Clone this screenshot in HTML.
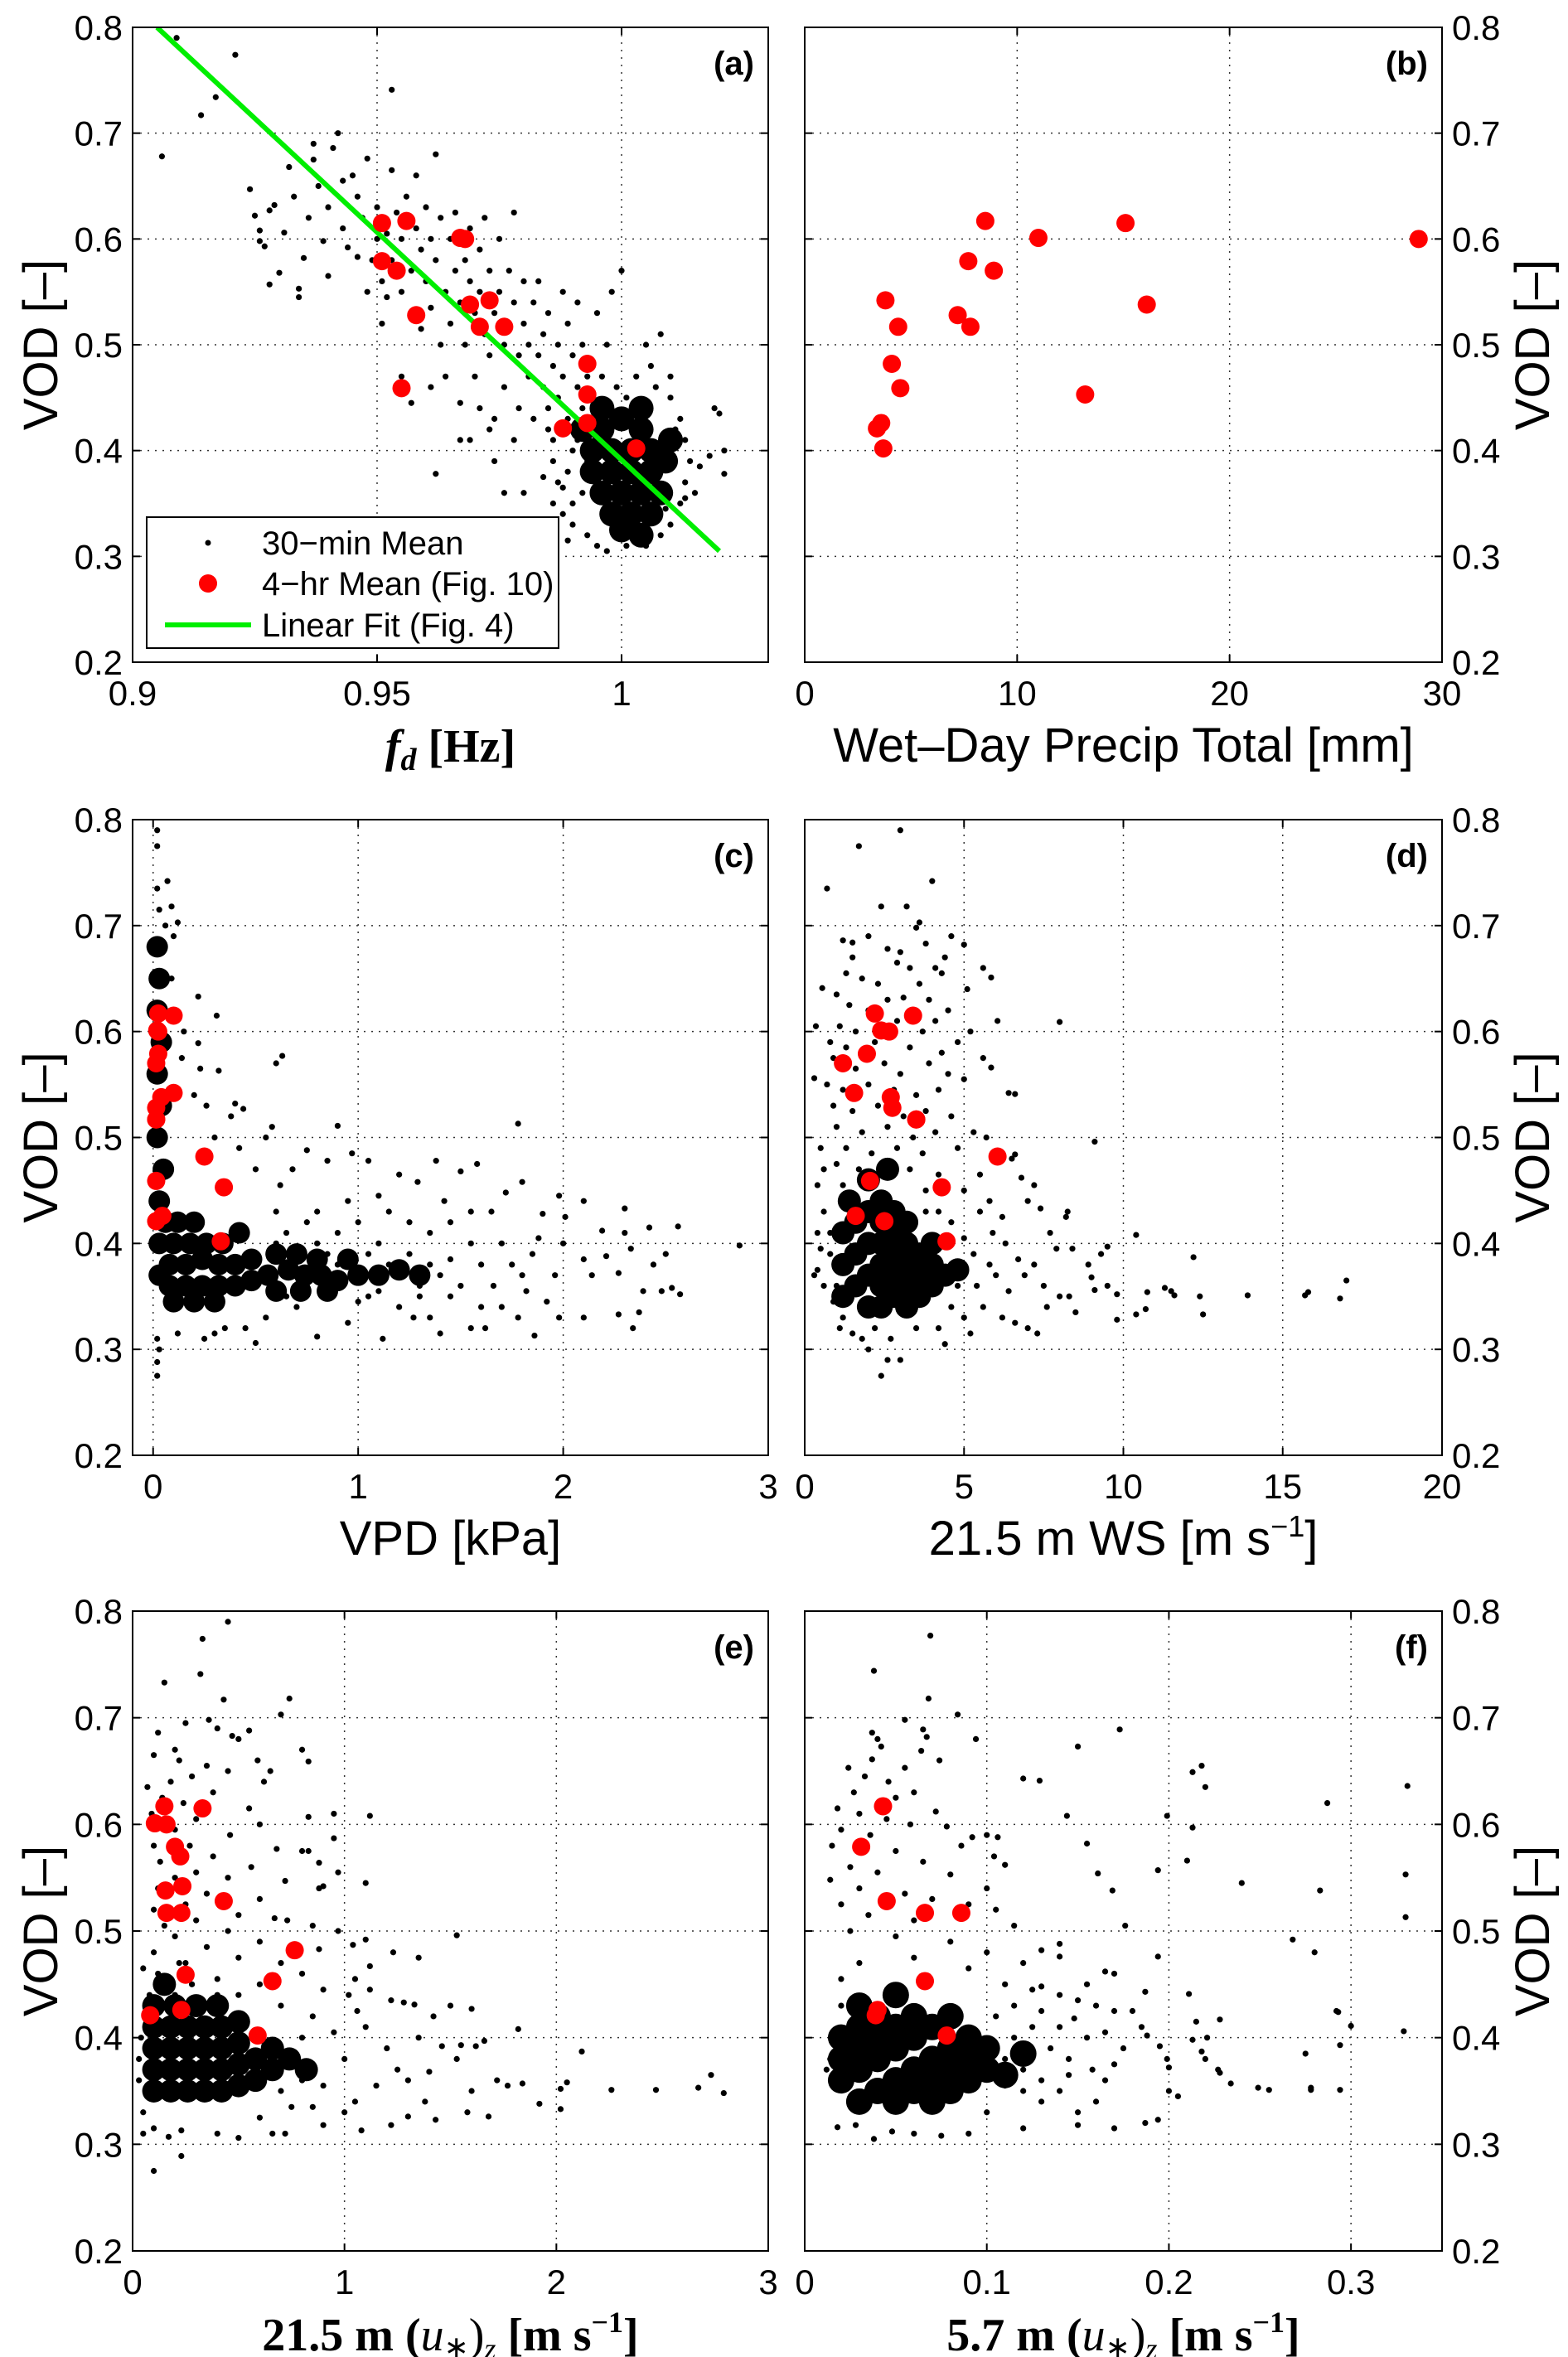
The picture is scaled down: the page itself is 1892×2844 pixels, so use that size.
<!DOCTYPE html>
<html><head><meta charset="utf-8">
<style>
html,body{margin:0;padding:0;background:#fff;}
svg{display:block;}
text{font-family:"Liberation Sans",sans-serif;fill:#000;}
.tick{font-size:42px;}
.alab{font-size:58px;}
.plab{font-size:40px;font-weight:bold;}
.math{font-family:"Liberation Serif",serif;font-weight:bold;font-size:56px;}
</style></head>
<body>
<svg id="fig" width="1892" height="2844" viewBox="0 0 1892 2844" xmlns="http://www.w3.org/2000/svg"></svg>
<script>
const vodTicks=[0.2,0.3,0.4,0.5,0.6,0.7,0.8];
const vodTickLabels=["0.2","0.3","0.4","0.5","0.6","0.7","0.8"];
// 4-hr mean VOD values (shared)
const meanVOD=[0.617,0.615,0.601,0.600,0.579,0.570,0.542,0.538,0.528,0.517,0.517,0.482,0.459,0.453,0.426,0.421,0.402];
const meanFd=[0.956,0.951,0.967,0.968,0.951,0.954,0.973,0.969,0.958,0.971,0.976,0.993,0.955,0.993,0.993,0.988,1.003];
const meanPrecip=[8.5,15.1,11.0,28.9,7.7,8.9,3.8,16.1,7.2,4.4,7.8,4.1,4.5,13.2,3.6,3.4,3.7];
const meanVPD=[0.025,0.10,0.02,0.025,0.025,0.015,0.10,0.04,0.015,0.015,0.015,0.25,0.015,0.345,0.045,0.015,0.33];
const meanWS=[2.2,3.4,2.4,2.65,1.95,1.2,1.55,2.7,2.75,3.5,3.5,6.05,2.05,4.3,1.6,2.5,4.45];
const meanUs21=[0.15,0.33,0.105,0.16,0.2,0.225,0.235,0.155,0.43,0.16,0.23,0.765,0.25,0.66,0.23,0.083,0.59];
const fVOD=[0.617,0.579,0.528,0.517,0.517,0.453,0.426,0.421,0.402];
const meanUs57=[0.043,0.031,0.045,0.066,0.086,0.066,0.040,0.039,0.078];
const fitX=[0.905,1.02];
const fitY=[0.8,0.305];
const xTicksA=[0.9,0.95,1],xLabA=["0.9","0.95","1"];
const xTicksB=[0,10,20,30],xLabB=["0","10","20","30"];
const xTicksC=[0,1,2,3],xLabC=["0","1","2","3"];
const xTicksD=[0,5,10,15,20],xLabD=["0","5","10","15","20"];
const xTicksE=[0,1,2,3],xLabE=["0","1","2","3"];
const xTicksF=[0,0.1,0.2,0.3],xLabF=["0","0.1","0.2","0.3"];

const ptsA=[[0.906,0.678],[0.909,0.79],[0.914,0.717],[0.917,0.734],[0.921,0.774],[0.953,0.741],[0.924,0.647],[0.925,0.622],[0.926,0.608],[0.926,0.598],[0.927,0.593],[0.928,0.557],[0.928,0.627],[0.929,0.632],[0.930,0.568],[0.931,0.606],[0.932,0.668],[0.933,0.64],[0.934,0.553],[0.934,0.545],[0.935,0.582],[0.936,0.62],[0.937,0.69],[0.937,0.675],[0.938,0.65],[0.939,0.598],[0.940,0.63],[0.940,0.565],[0.941,0.686],[0.942,0.7],[0.943,0.61],[0.943,0.655],[0.944,0.592],[0.945,0.66],[0.946,0.64],[0.946,0.583],[0.947,0.62],[0.948,0.676],[0.948,0.55],[0.949,0.58],[0.950,0.6],[0.950,0.63],[0.951,0.56],[0.951,0.52],[0.952,0.605],[0.952,0.545],[0.953,0.58],[0.953,0.665],[0.954,0.625],[0.955,0.55],[0.955,0.6],[0.956,0.64],[0.957,0.57],[0.957,0.53],[0.958,0.61],[0.958,0.66],[0.959,0.59],[0.959,0.515],[0.960,0.63],[0.960,0.56],[0.961,0.6],[0.961,0.535],[0.962,0.68],[0.962,0.58],[0.963,0.62],[0.963,0.5],[0.964,0.55],[0.964,0.47],[0.965,0.6],[0.965,0.52],[0.966,0.57],[0.966,0.625],[0.967,0.54],[0.967,0.445],[0.968,0.58],[0.968,0.5],[0.969,0.56],[0.969,0.61],[0.970,0.53],[0.970,0.47],[0.971,0.59],[0.971,0.55],[0.972,0.51],[0.972,0.62],[0.973,0.57],[0.973,0.49],[0.974,0.53],[0.974,0.43],[0.975,0.55],[0.975,0.6],[0.976,0.5],[0.976,0.46],[0.977,0.57],[0.977,0.52],[0.978,0.54],[0.978,0.625],[0.979,0.49],[0.979,0.44],[0.980,0.52],[0.980,0.56],[0.981,0.5],[0.981,0.47],[0.982,0.54],[0.982,0.43],[0.983,0.49],[0.983,0.56],[0.984,0.46],[0.984,0.51],[0.985,0.53],[0.985,0.44],[0.986,0.48],[0.986,0.41],[0.987,0.5],[0.987,0.45],[0.988,0.55],[0.988,0.47],[0.989,0.43],[0.989,0.52],[0.990,0.49],[0.990,0.4],[0.991,0.46],[0.991,0.54],[0.992,0.44],[0.992,0.5],[0.993,0.47],[0.993,0.39],[0.955,0.47],[0.957,0.445],[0.961,0.46],[0.962,0.378],[0.967,0.41],[0.969,0.41],[0.971,0.44],[0.973,0.42],[0.974,0.39],[0.976,0.36],[0.978,0.41],[0.98,0.36],[0.984,0.375],[0.986,0.35],[0.988,0.34],[0.989,0.315],[0.988,0.365],[1.019,0.44],[1.02,0.435],[1.021,0.4],[1.021,0.378],[1.018,0.395],[1.016,0.385],[1.013,0.355],[1.01,0.47],[1.008,0.51],[1.005,0.5],[1.0,0.57],[0.998,0.55],[0.995,0.53],[0.997,0.5],[0.985,0.42],[0.986,0.39],[0.987,0.37],[0.99,0.35],[0.99,0.33],[0.992,0.36],[0.993,0.32],[0.995,0.31],[0.997,0.305],[1.001,0.31],[1.005,0.31],[1.008,0.32],[1.01,0.33],[1.012,0.35],[1.013,0.37],[1.014,0.39],[1.013,0.41],[1.012,0.43],[1.01,0.45],[1.007,0.46],[1.003,0.47],[0.999,0.46],[0.996,0.47],[0.994,0.45],[1.015,0.36],[1.011,0.42],[0.989,0.38],[0.991,0.41],[1.006,0.48],[1.001,0.45],[1.009,0.345]];
const denseA=[[0.996,0.42],[1.0,0.43],[1.004,0.42],[0.994,0.40],[0.998,0.40],[1.002,0.40],[1.006,0.40],[0.994,0.38],[0.998,0.38],[1.002,0.38],[1.006,0.38],[1.009,0.39],[0.996,0.36],[1.0,0.36],[1.004,0.36],[1.008,0.36],[0.998,0.34],[1.002,0.34],[1.006,0.34],[1.0,0.325],[1.004,0.32],[0.992,0.42],[1.010,0.41],[0.996,0.44],[1.004,0.44]];

const ptsC=[[0.02,0.79],[0.02,0.775],[0.02,0.735],[0.07,0.742],[0.03,0.715],[0.09,0.718],[0.12,0.703],[0.06,0.7],[0.1,0.69],[0.05,0.655],[0.09,0.65],[0.22,0.633],[0.31,0.615],[0.15,0.6],[0.22,0.589],[0.6,0.57],[0.63,0.577],[0.23,0.565],[0.32,0.563],[0.14,0.575],[0.4,0.532],[0.44,0.527],[0.38,0.52],[0.58,0.51],[0.9,0.511],[1.78,0.513],[0.3,0.5],[0.55,0.5],[0.26,0.53],[0.2,0.54],[0.75,0.488],[0.97,0.485],[1.05,0.478],[1.38,0.478],[1.58,0.475],[1.2,0.465],[1.5,0.468],[0.68,0.47],[0.85,0.478],[0.42,0.49],[0.5,0.47],[0.62,0.455],[1.29,0.458],[1.8,0.458],[1.72,0.448],[1.98,0.445],[2.1,0.44],[2.3,0.433],[1.65,0.43],[1.9,0.428],[1.42,0.44],[1.1,0.445],[0.95,0.44],[0.8,0.43],[2.01,0.425],[2.19,0.412],[2.3,0.41],[2.42,0.415],[2.56,0.416],[2.86,0.398],[2.44,0.38],[2.33,0.395],[2.27,0.372],[2.5,0.39],[2.39,0.355],[2.48,0.355],[2.53,0.358],[2.57,0.352],[2.34,0.32],[2.27,0.333],[2.37,0.335],[2.14,0.37],[2.21,0.388],[2.1,0.385],[2.0,0.4],[1.96,0.37],[1.88,0.405],[1.85,0.39],[1.8,0.37],[1.75,0.38],[1.7,0.4],[1.92,0.345],[1.98,0.33],[2.1,0.33],[1.86,0.313],[1.82,0.355],[1.66,0.36],[1.6,0.38],[1.55,0.4],[1.5,0.36],[1.45,0.385],[1.4,0.37],[1.35,0.41],[1.3,0.36],[1.25,0.39],[1.2,0.34],[1.15,0.38],[1.1,0.4],[1.05,0.35],[1.0,0.42],[0.95,0.39],[0.9,0.41],[0.85,0.35],[0.8,0.4],[0.75,0.42],[0.7,0.34],[0.65,0.41],[0.6,0.43],[0.7,0.39],[0.55,0.33],[0.45,0.32],[0.35,0.32],[0.3,0.315],[0.25,0.31],[0.12,0.315],[0.5,0.306],[0.8,0.312],[1.12,0.31],[1.4,0.315],[1.55,0.32],[1.62,0.32],[1.35,0.33],[0.95,0.325],[1.27,0.33],[1.7,0.34],[1.78,0.33],[1.45,0.35],[1.6,0.34],[0.03,0.3],[0.02,0.288],[0.02,0.275],[0.02,0.31],[1.25,0.42],[1.15,0.43],[1.45,0.42],[1.55,0.43],[0.6,0.4],[0.65,0.35],[0.9,0.38],[1.05,0.39],[1.2,0.37],[1.35,0.38],[1.3,0.35],[0.85,0.39],[0.75,0.36],[1.0,0.345],[1.1,0.355]];
const denseC=[[0.02,0.68],[0.03,0.65],[0.02,0.62],[0.04,0.59],[0.02,0.56],[0.04,0.53],[0.02,0.5],[0.05,0.47],[0.03,0.44],[0.06,0.42],[0.03,0.40],[0.03,0.37],[0.08,0.36],[0.16,0.36],[0.24,0.36],[0.32,0.36],[0.40,0.36],[0.48,0.365],[0.56,0.37],[0.08,0.38],[0.16,0.38],[0.24,0.385],[0.32,0.38],[0.40,0.38],[0.48,0.385],[0.1,0.40],[0.18,0.40],[0.26,0.40],[0.34,0.40],[0.12,0.42],[0.2,0.42],[0.1,0.345],[0.2,0.345],[0.3,0.345],[0.66,0.375],[0.74,0.37],[0.82,0.37],[0.9,0.365],[1.0,0.37],[1.1,0.37],[0.6,0.39],[0.7,0.39],[0.8,0.385],[0.6,0.355],[0.72,0.355],[0.85,0.355],[0.95,0.385],[1.2,0.375],[1.3,0.37],[0.42,0.41]];

const ptsD=[[0.7,0.735],[1.7,0.775],[3.0,0.79],[4.0,0.742],[2.4,0.718],[3.2,0.718],[3.5,0.698],[3.6,0.703],[1.2,0.686],[1.5,0.684],[2.0,0.69],[4.6,0.69],[5.0,0.682],[3.8,0.683],[2.6,0.678],[3.0,0.675],[4.4,0.67],[1.5,0.67],[2.9,0.665],[3.3,0.66],[4.1,0.66],[5.6,0.66],[5.85,0.651],[4.3,0.655],[1.3,0.655],[1.8,0.65],[2.3,0.645],[3.6,0.645],[5.1,0.64],[0.55,0.641],[1.0,0.635],[2.6,0.63],[3.1,0.632],[3.9,0.63],[4.5,0.62],[1.4,0.625],[2.0,0.62],[6.05,0.61],[8.0,0.609],[4.1,0.61],[0.35,0.605],[1.1,0.605],[1.6,0.6],[2.9,0.61],[3.7,0.6],[5.2,0.6],[4.8,0.59],[0.8,0.59],[1.3,0.585],[2.2,0.59],[3.3,0.585],[4.3,0.58],[5.6,0.575],[5.85,0.566],[0.9,0.575],[1.6,0.565],[2.5,0.57],[3.0,0.56],[3.9,0.57],[4.5,0.56],[0.3,0.556],[5.0,0.555],[6.4,0.542],[6.6,0.541],[0.7,0.55],[1.2,0.545],[2.0,0.55],[2.8,0.545],[3.5,0.54],[4.2,0.545],[0.9,0.53],[1.5,0.525],[2.3,0.53],[3.1,0.52],[3.8,0.525],[4.6,0.52],[1.0,0.51],[1.8,0.505],[2.6,0.51],[3.4,0.5],[4.1,0.505],[5.7,0.5],[9.1,0.496],[5.3,0.505],[0.5,0.49],[1.3,0.49],[2.1,0.485],[2.9,0.49],[3.7,0.485],[4.8,0.49],[6.5,0.48],[6.6,0.484],[0.6,0.47],[1.0,0.475],[1.7,0.47],[3.3,0.47],[4.2,0.465],[5.5,0.465],[6.8,0.462],[7.2,0.455],[0.4,0.455],[1.2,0.455],[3.8,0.45],[5.0,0.45],[5.8,0.44],[7.4,0.433],[8.25,0.43],[8.2,0.425],[7.0,0.44],[6.2,0.425],[0.6,0.43],[0.8,0.41],[0.5,0.395],[0.4,0.375],[0.6,0.36],[0.9,0.345],[1.2,0.33],[1.1,0.32],[1.5,0.315],[1.8,0.31],[2.2,0.32],[2.7,0.31],[3.0,0.29],[2.4,0.275],[3.5,0.32],[4.2,0.32],[4.4,0.305],[5.2,0.315],[5.0,0.33],[5.6,0.34],[6.2,0.33],[6.6,0.325],[7.0,0.32],[7.3,0.315],[7.6,0.34],[8.5,0.335],[8.0,0.35],[8.3,0.35],[7.5,0.36],[6.9,0.37],[6.4,0.355],[6.0,0.37],[5.8,0.38],[5.3,0.39],[5.0,0.405],[4.8,0.36],[4.6,0.34],[5.9,0.41],[6.3,0.4],[6.7,0.385],[7.2,0.38],[7.7,0.41],[7.9,0.395],[8.4,0.395],[8.9,0.38],[9.0,0.368],[9.3,0.39],[9.5,0.397],[9.1,0.356],[9.5,0.36],[9.8,0.352],[9.8,0.328],[10.4,0.408],[10.4,0.333],[10.75,0.354],[10.7,0.338],[11.3,0.358],[11.5,0.355],[11.6,0.351],[12.2,0.387],[12.4,0.35],[12.5,0.333],[13.9,0.351],[15.7,0.351],[15.8,0.354],[16.8,0.348],[17.0,0.365],[0.8,0.39],[1.0,0.36],[4.6,0.42],[4.2,0.43],[3.8,0.43],[5.5,0.43],[4.9,0.38],[5.4,0.36],[2.0,0.3],[2.6,0.29],[0.3,0.37],[0.4,0.41]];
const denseD=[[1.2,0.38],[1.6,0.36],[1.6,0.39],[1.6,0.42],[2.0,0.34],[2.0,0.37],[2.0,0.40],[2.0,0.43],[2.4,0.34],[2.4,0.36],[2.4,0.38],[2.4,0.40],[2.4,0.42],[2.4,0.44],[2.8,0.35],[2.8,0.37],[2.8,0.39],[2.8,0.41],[2.8,0.43],[3.2,0.34],[3.2,0.36],[3.2,0.38],[3.2,0.40],[3.2,0.42],[3.6,0.35],[3.6,0.37],[3.6,0.39],[4.0,0.36],[4.0,0.38],[4.4,0.37],[2.0,0.46],[2.6,0.47],[1.4,0.44],[1.2,0.35],[1.2,0.41],[4.0,0.40],[4.8,0.375]];

const ptsE=[[0.45,0.79],[0.33,0.774],[0.32,0.741],[0.15,0.733],[0.74,0.718],[0.43,0.717],[0.7,0.703],[0.36,0.698],[0.25,0.695],[0.12,0.686],[0.55,0.688],[0.5,0.68],[0.47,0.683],[0.4,0.69],[0.8,0.67],[0.83,0.659],[0.59,0.66],[0.65,0.65],[0.2,0.67],[0.22,0.66],[0.1,0.665],[0.35,0.655],[0.45,0.65],[0.28,0.645],[0.62,0.64],[0.18,0.64],[0.07,0.635],[0.38,0.63],[0.14,0.625],[0.24,0.62],[0.55,0.615],[0.09,0.61],[0.95,0.61],[1.12,0.608],[0.83,0.607],[0.3,0.605],[0.6,0.6],[0.2,0.595],[0.46,0.59],[0.95,0.587],[0.1,0.58],[0.27,0.58],[0.68,0.577],[0.8,0.575],[0.83,0.575],[0.38,0.57],[0.13,0.565],[0.88,0.564],[0.56,0.56],[0.3,0.555],[0.2,0.55],[0.97,0.555],[0.45,0.55],[0.72,0.547],[1.1,0.545],[0.9,0.542],[0.88,0.54],[0.12,0.54],[0.35,0.535],[0.6,0.53],[0.25,0.525],[0.1,0.52],[0.5,0.515],[0.67,0.512],[0.73,0.51],[0.3,0.51],[0.15,0.505],[0.85,0.505],[0.97,0.5],[0.45,0.5],[0.2,0.495],[1.1,0.492],[1.53,0.496],[1.04,0.487],[0.6,0.49],[0.35,0.485],[0.1,0.48],[0.88,0.483],[1.23,0.48],[1.35,0.475],[0.5,0.475],[0.25,0.47],[0.7,0.47],[1.12,0.467],[0.05,0.465],[0.8,0.46],[0.4,0.455],[1.05,0.455],[0.6,0.45],[0.9,0.445],[1.02,0.44],[1.12,0.445],[0.2,0.44],[1.22,0.435],[1.28,0.433],[1.33,0.431],[1.5,0.43],[1.42,0.42],[1.6,0.427],[0.7,0.43],[1.06,0.425],[0.85,0.42],[0.95,0.405],[1.82,0.408],[1.66,0.397],[1.46,0.392],[1.55,0.393],[1.53,0.38],[1.62,0.392],[2.12,0.387],[1.35,0.4],[1.2,0.39],[1.1,0.41],[0.8,0.4],[1.0,0.38],[1.25,0.37],[1.4,0.368],[1.15,0.355],[1.3,0.36],[1.05,0.34],[0.9,0.355],[0.85,0.335],[1.0,0.33],[1.08,0.313],[0.9,0.318],[1.22,0.318],[1.3,0.326],[1.38,0.34],[1.43,0.323],[1.58,0.33],[1.6,0.35],[1.72,0.36],[1.77,0.355],[1.68,0.326],[1.84,0.357],[1.92,0.338],[2.02,0.352],[2.05,0.358],[2.02,0.333],[2.26,0.351],[2.47,0.351],[2.67,0.353],[2.73,0.365],[2.79,0.348],[0.05,0.31],[0.1,0.315],[0.17,0.307],[0.23,0.313],[0.23,0.289],[0.1,0.275],[0.4,0.31],[0.5,0.306],[0.66,0.31],[0.72,0.31],[0.6,0.325],[0.75,0.335],[0.8,0.36],[0.7,0.35],[0.05,0.33],[0.03,0.36],[0.03,0.38],[0.04,0.4],[0.06,0.42],[0.08,0.44],[0.12,0.46],[0.22,0.47],[0.28,0.45],[0.4,0.44],[0.5,0.44]];
const denseE=[[0.1,0.35],[0.1,0.37],[0.1,0.39],[0.1,0.41],[0.18,0.35],[0.18,0.37],[0.18,0.39],[0.18,0.41],[0.26,0.35],[0.26,0.37],[0.26,0.39],[0.26,0.41],[0.34,0.35],[0.34,0.37],[0.34,0.39],[0.34,0.41],[0.42,0.35],[0.42,0.37],[0.42,0.39],[0.42,0.41],[0.50,0.355],[0.50,0.375],[0.50,0.395],[0.58,0.36],[0.58,0.38],[0.1,0.43],[0.2,0.43],[0.3,0.43],[0.15,0.45],[0.66,0.37],[0.66,0.39],[0.74,0.38],[0.5,0.415],[0.4,0.43],[0.82,0.37]];

const ptsF=[[0.069,0.777],[0.038,0.744],[0.068,0.718],[0.084,0.703],[0.055,0.698],[0.065,0.689],[0.173,0.689],[0.037,0.686],[0.04,0.68],[0.067,0.682],[0.094,0.68],[0.15,0.673],[0.042,0.673],[0.064,0.669],[0.037,0.661],[0.074,0.66],[0.218,0.655],[0.213,0.649],[0.024,0.653],[0.055,0.653],[0.12,0.643],[0.129,0.641],[0.22,0.635],[0.331,0.636],[0.046,0.64],[0.033,0.645],[0.027,0.63],[0.05,0.625],[0.06,0.63],[0.287,0.62],[0.018,0.615],[0.03,0.61],[0.045,0.605],[0.144,0.608],[0.199,0.608],[0.213,0.597],[0.072,0.612],[0.058,0.6],[0.02,0.595],[0.036,0.59],[0.078,0.598],[0.092,0.588],[0.1,0.59],[0.106,0.588],[0.155,0.582],[0.015,0.58],[0.05,0.575],[0.065,0.565],[0.086,0.58],[0.11,0.562],[0.104,0.57],[0.194,0.557],[0.21,0.566],[0.161,0.554],[0.025,0.56],[0.04,0.555],[0.08,0.553],[0.014,0.548],[0.03,0.54],[0.055,0.535],[0.24,0.545],[0.283,0.538],[0.169,0.538],[0.33,0.553],[0.1,0.54],[0.07,0.53],[0.02,0.525],[0.09,0.525],[0.035,0.515],[0.105,0.52],[0.33,0.513],[0.06,0.51],[0.115,0.505],[0.176,0.505],[0.025,0.5],[0.05,0.495],[0.08,0.49],[0.268,0.492],[0.28,0.48],[0.14,0.488],[0.13,0.482],[0.1,0.48],[0.12,0.47],[0.194,0.476],[0.14,0.476],[0.165,0.462],[0.17,0.46],[0.155,0.45],[0.03,0.47],[0.06,0.475],[0.09,0.465],[0.02,0.455],[0.11,0.45],[0.125,0.445],[0.13,0.448],[0.14,0.44],[0.15,0.435],[0.16,0.43],[0.17,0.425],[0.18,0.425],[0.187,0.443],[0.211,0.441],[0.215,0.415],[0.228,0.417],[0.213,0.398],[0.221,0.4],[0.293,0.424],[0.292,0.425],[0.3,0.411],[0.329,0.406],[0.294,0.393],[0.275,0.385],[0.218,0.387],[0.22,0.38],[0.227,0.37],[0.228,0.367],[0.234,0.357],[0.249,0.353],[0.255,0.351],[0.278,0.353],[0.278,0.351],[0.294,0.351],[0.199,0.38],[0.2,0.372],[0.2,0.35],[0.205,0.345],[0.194,0.323],[0.187,0.32],[0.195,0.392],[0.188,0.402],[0.185,0.41],[0.175,0.39],[0.17,0.375],[0.165,0.36],[0.16,0.34],[0.15,0.33],[0.14,0.35],[0.13,0.36],[0.12,0.37],[0.11,0.38],[0.115,0.4],[0.125,0.41],[0.135,0.39],[0.145,0.38],[0.155,0.4],[0.165,0.405],[0.148,0.418],[0.13,0.425],[0.115,0.43],[0.105,0.42],[0.12,0.35],[0.13,0.34],[0.145,0.365],[0.158,0.37],[0.17,0.315],[0.15,0.318],[0.12,0.315],[0.1,0.33],[0.09,0.31],[0.075,0.308],[0.06,0.31],[0.048,0.312],[0.038,0.305],[0.028,0.318],[0.018,0.316],[0.012,0.37],[0.014,0.38],[0.016,0.395],[0.02,0.43],[0.11,0.355],[0.14,0.41]];
const denseF=[[0.02,0.36],[0.02,0.38],[0.02,0.40],[0.03,0.34],[0.03,0.37],[0.03,0.39],[0.03,0.41],[0.03,0.43],[0.04,0.35],[0.04,0.38],[0.04,0.40],[0.04,0.42],[0.05,0.34],[0.05,0.36],[0.05,0.39],[0.05,0.41],[0.05,0.44],[0.06,0.35],[0.06,0.37],[0.06,0.40],[0.06,0.42],[0.07,0.34],[0.07,0.36],[0.07,0.38],[0.07,0.41],[0.08,0.35],[0.08,0.37],[0.08,0.39],[0.08,0.42],[0.09,0.36],[0.09,0.38],[0.09,0.40],[0.10,0.37],[0.10,0.39],[0.11,0.365],[0.12,0.385]];

const NS="http://www.w3.org/2000/svg";
const svg=document.getElementById('fig');
function mk(tag,attrs,parent){const e=document.createElementNS(NS,tag);for(const k in attrs)e.setAttribute(k,attrs[k]);(parent||svg).appendChild(e);return e;}

function panel(cfg){
  const g=mk('g',{});
  
  
  const L=cfg.l,R=cfg.r,T=cfg.t,B=cfg.b;
  const sx=v=>L+(v-cfg.xmin)/(cfg.xmax-cfg.xmin)*(R-L);
  const sy=v=>B-(v-0.2)/(0.8-0.2)*(B-T);
  cfg.xt.forEach((t,i)=>{
    const x=sx(t);
    if(x>L+2&&x<R-2){const gl=mk('line',{x1:x,y1:T,x2:x,y2:B,stroke:'#333','stroke-width':1.5,'stroke-dasharray':'2,7'},g);
    
    }
    mk('line',{x1:x,y1:B,x2:x,y2:B-9,stroke:'#000','stroke-width':2},g);
    mk('line',{x1:x,y1:T,x2:x,y2:T+9,stroke:'#000','stroke-width':2},g);
    const tl=mk('text',{x:x,y:B+52,'text-anchor':'middle',class:'tick'},g);
    tl.textContent=cfg.xl[i];
    
    
  });
  vodTicks.forEach((t,i)=>{
    const y=sy(t);
    if(y>T+2&&y<B-2){const gl=mk('line',{x1:L,y1:y,x2:R,y2:y,stroke:'#333','stroke-width':1.5,'stroke-dasharray':'2,7'},g);
    
    }
    mk('line',{x1:L,y1:y,x2:L+9,y2:y,stroke:'#000','stroke-width':2},g);
    mk('line',{x1:R,y1:y,x2:R-9,y2:y,stroke:'#000','stroke-width':2},g);
    const tl=mk('text',{x:cfg.right?R+12:L-12,y:y+15,'text-anchor':cfg.right?'start':'end',class:'tick'},g);
    tl.textContent=vodTickLabels[i];
    
    
  });
  const clip=mk('clipPath',{id:'clip'+cfg.id},g);
  mk('rect',{x:L,y:T,width:R-L,height:B-T},clip);
  const pg=mk('g',{'clip-path':'url(#clip'+cfg.id+')'},g);
  (cfg.dense||[]).forEach(p=>{
    const c=mk('circle',{cx:sx(p[0]),cy:sy(p[1]),r:cfg.dr||14,fill:'#000'},pg);
    
    
  });
  (cfg.pts||[]).forEach(p=>{
    const c=mk('circle',{cx:sx(p[0]),cy:sy(p[1]),r:3.6,fill:'#000'},pg);
    
    
  });
  if(cfg.fit){
    const ln=mk('line',{x1:sx(fitX[0]),y1:sy(fitY[0]),x2:sx(fitX[1]),y2:sy(fitY[1]),stroke:'#00ee00','stroke-width':6},pg);
    
    
  }
  cfg.mx.forEach((v,i)=>{
    const c=mk('circle',{cx:sx(v),cy:sy(cfg.my[i]),r:11,fill:'#ff0000'},pg);
    
    
  });
  const box=mk('rect',{x:L,y:T,width:R-L,height:B-T,fill:'none',stroke:'#000','stroke-width':2},g);
  
  
  const pl=mk('text',{x:R-17,y:T+57,'text-anchor':'end',class:'plab'},g);
  pl.textContent='('+cfg.id+')';
  
  
  const yl=mk('text',{x:0,y:0,'text-anchor':'middle',class:'alab',transform:'translate('+(cfg.right?1869:69)+','+((T+B)/2)+') rotate(-90)'},g);
  yl.textContent='VOD [–]';
  
  
  const xl=mk('text',{x:(L+R)/2,y:B+120,'text-anchor':'middle',class:cfg.xmath?'math':'alab'},g);
  xl.innerHTML=cfg.xtitle;
  
  
  return {g,sx,sy};
}

const c1={l:160,r:927},c2={l:971,r:1740};
const r1={t:33,b:799},r2={t:989,b:1756},r3={t:1944,b:2716};
panel({id:'a',...c1,...r1,xmin:0.9,xmax:1.03,xt:xTicksA,xl:xLabA,pts:ptsA,dense:denseA,dr:15,fit:true,mx:meanFd,my:meanVOD,xmath:true,
  xtitle:'<tspan font-style="italic">f</tspan><tspan font-style="italic" font-size="38" dy="10">d</tspan><tspan dy="-10">  [Hz]</tspan>'});
panel({id:'b',...c2,...r1,right:true,xmin:0,xmax:30,xt:xTicksB,xl:xLabB,mx:meanPrecip,my:meanVOD,xtitle:'Wet–Day Precip Total [mm]'});
panel({id:'c',...c1,...r2,xmin:-0.1,xmax:3,xt:xTicksC,xl:xLabC,pts:ptsC,dense:denseC,dr:13,mx:meanVPD,my:meanVOD,xtitle:'VPD [kPa]'});
panel({id:'d',...c2,...r2,right:true,xmin:0,xmax:20,xt:xTicksD,xl:xLabD,pts:ptsD,dense:denseD,dr:14,mx:meanWS,my:meanVOD,
  xtitle:'21.5 m WS [m s<tspan font-size="36" dy="-22">−1</tspan><tspan dy="22">]</tspan>'});
panel({id:'e',...c1,...r3,xmin:0,xmax:3,xt:xTicksE,xl:xLabE,pts:ptsE,dense:denseE,dr:14,mx:meanUs21,my:meanVOD,xmath:true,
  xtitle:'21.5 m (<tspan font-style="italic" font-weight="normal">u</tspan><tspan font-size="36" font-weight="normal" dy="8">∗</tspan><tspan dy="-8" font-weight="normal">)</tspan><tspan font-style="italic" font-weight="normal" font-size="36" dy="10">z</tspan><tspan dy="-10">  [m s</tspan><tspan font-size="36" dy="-22">−1</tspan><tspan dy="22">]</tspan>'});
panel({id:'f',...c2,...r3,right:true,xmin:0,xmax:0.35,xt:xTicksF,xl:xLabF,pts:ptsF,dense:denseF,dr:16,mx:meanUs57,my:fVOD,xmath:true,
  xtitle:'5.7 m (<tspan font-style="italic" font-weight="normal">u</tspan><tspan font-size="36" font-weight="normal" dy="8">∗</tspan><tspan dy="-8" font-weight="normal">)</tspan><tspan font-style="italic" font-weight="normal" font-size="36" dy="10">z</tspan><tspan dy="-10">  [m s</tspan><tspan font-size="36" dy="-22">−1</tspan><tspan dy="22">]</tspan>'});

const lg=mk('g',{});


mk('rect',{x:177,y:624,width:497,height:158,fill:'#fff',stroke:'#000','stroke-width':2},lg);
const e1=mk('circle',{cx:251,cy:655,r:3.5,fill:'#000'},lg);


const e2=mk('circle',{cx:251,cy:704,r:11,fill:'#ff0000'},lg);


const e3=mk('line',{x1:199,y1:754,x2:303,y2:754,stroke:'#00ee00','stroke-width':6},lg);


[['30−min Mean',655],['4−hr Mean (Fig. 10)',704],['Linear Fit (Fig. 4)',754]].forEach(([t,y])=>{
  const tx=mk('text',{x:316,y:y+14,class:'tick',style:'font-size:40px'},lg);
  tx.textContent=t;
  
  
});
</script>
</body></html>
